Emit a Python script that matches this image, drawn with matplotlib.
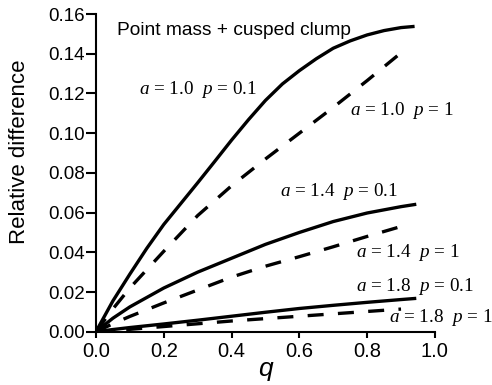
import matplotlib
matplotlib.use('Agg')
import matplotlib.pyplot as plt

plt.rcParams['font.family'] = 'Liberation Sans'
plt.rcParams['mathtext.fontset'] = 'custom'
plt.rcParams['mathtext.rm'] = 'Liberation Serif'
plt.rcParams['mathtext.it'] = 'Liberation Serif:italic'

# curves for the point mass + cusped clump model
q_fine = [0.0, 0.05, 0.1, 0.15, 0.2, 0.25, 0.3, 0.35, 0.4, 0.45, 0.5, 0.55,
          0.6, 0.65, 0.7, 0.75, 0.8, 0.85, 0.9, 0.94]
q_solid = [0.0, 0.05, 0.1, 0.2, 0.3, 0.4, 0.5, 0.6, 0.7, 0.8, 0.9, 0.945]
q_dash = [0.0, 0.05, 0.1, 0.2, 0.3, 0.4, 0.5, 0.6, 0.7, 0.8, 0.9]

a10_p01 = [0.0, 0.0155, 0.029, 0.042, 0.054, 0.0645, 0.075, 0.0857, 0.0965,
           0.1068, 0.1165, 0.1248, 0.1315, 0.1375, 0.1428, 0.1465, 0.1495,
           0.1517, 0.1532, 0.1538]
a10_p1 = [0.0, 0.0115, 0.022, 0.0405, 0.0585, 0.0735, 0.087, 0.100, 0.113, 0.1265, 0.1405]
a14_p01 = [0.0, 0.0068, 0.0125, 0.022, 0.030, 0.037, 0.044, 0.050, 0.0555, 0.0598, 0.063, 0.0642]
a14_p1 = [0.0, 0.004, 0.0077, 0.0145, 0.021, 0.0275, 0.033, 0.0378, 0.0428, 0.048, 0.053]
a18_p01 = [0.0, 0.0011, 0.0021, 0.0039, 0.0058, 0.0078, 0.0098, 0.0117, 0.0133, 0.0148, 0.0162, 0.0168]
a18_p1 = [0.0, 0.0006, 0.0012, 0.0026, 0.004, 0.0054, 0.0066, 0.0078, 0.009, 0.0102, 0.0114]

labels = ['$a$ = 1.0  $p$ = 0.1', '$a$ = 1.0  $p$ = 1',
          '$a$ = 1.4  $p$ = 0.1', '$a$ = 1.4  $p$ = 1',
          '$a$ = 1.8  $p$ = 0.1', '$a$ = 1.8  $p$ = 1']
label_pos = [(0.127, 0.1197), (0.749, 0.1092), (0.543, 0.0684),
             (0.767, 0.0376), (0.767, 0.0205), (0.864, 0.0049)]

fig = plt.figure(figsize=(4.92, 3.85), dpi=100)
ax = fig.add_axes([0.195, 0.1384, 0.689, 0.825])

lw = 2.4
solid = dict(color='black', lw=lw, solid_capstyle='butt', solid_joinstyle='round')
dashed = dict(color='black', lw=lw, dashes=(4.8, 4.3), dash_capstyle='butt')

ax.plot(q_fine, a10_p01, **solid)
ax.plot(q_solid, a14_p01, **solid)
ax.plot(q_solid, a18_p01, **solid)
for ys in [a10_p1, a14_p1, a18_p1]:
    ax.plot(q_dash, ys, **dashed)

for txt, (x, y) in zip(labels, label_pos):
    ax.text(x, y, txt, family='Liberation Serif', fontsize=13.8, va='baseline',
            ha='left', clip_on=False)

ax.text(0.062, 0.1495, 'Point mass + cusped clump', fontsize=13.8,
        va='baseline', ha='left')

ax.set_xlim(0, 1.0)
ax.set_ylim(0, 0.16)
ax.set_xticks([0.0, 0.2, 0.4, 0.6, 0.8, 1.0])
ax.set_xticklabels(['0.0', '0.2', '0.4', '0.6', '0.8', '1.0'])
ax.set_yticks([0.0, 0.02, 0.04, 0.06, 0.08, 0.10, 0.12, 0.14, 0.16])
ax.set_yticklabels(['0.00', '0.02', '0.04', '0.06', '0.08', '0.10', '0.12', '0.14', '0.16'])

ax.spines['top'].set_visible(False)
ax.spines['right'].set_visible(False)
ax.spines['left'].set_linewidth(1.5)
ax.spines['bottom'].set_linewidth(1.5)
ax.tick_params(axis='x', width=1.5, length=4.5, labelsize=14.5, pad=3)
ax.tick_params(axis='y', width=1.5, length=7, labelsize=13.5, pad=1)

fig.text(19.5 / 492, 1 - 152 / 385, 'Relative difference', fontsize=16,
         rotation=90, ha='center', va='center')
ax.set_xlabel('q', fontsize=19, style='italic', labelpad=-3)

fig.savefig('out.png', dpi=100)
